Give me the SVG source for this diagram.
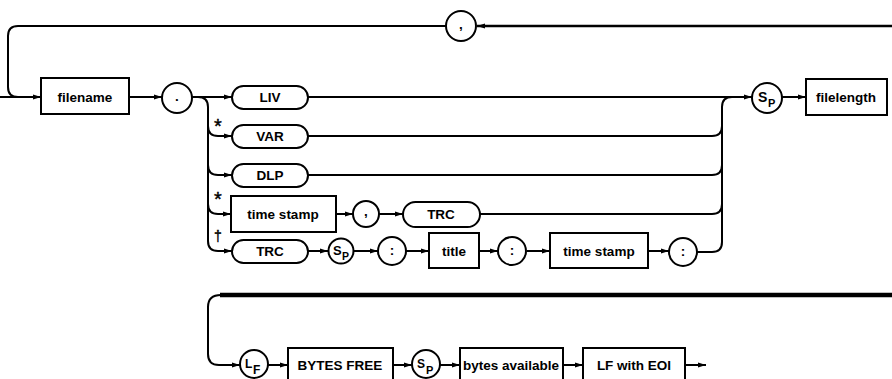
<svg xmlns="http://www.w3.org/2000/svg" width="892" height="379" viewBox="0 0 892 379">
<defs>
<marker id="ah" markerWidth="8" markerHeight="6" refX="8" refY="3" orient="auto" markerUnits="userSpaceOnUse">
<path d="M0,0.5 L8,3 L0,5.5 Z" fill="#000"/>
</marker>
<style>
.n{fill:#fff;stroke:#000;stroke-width:2}
.t{font-family:"Liberation Sans",Arial,sans-serif;font-weight:bold;font-size:13.5px;text-anchor:middle;fill:#000}
.c{fill:none;stroke:#000;stroke-width:2}
.a{marker-end:url(#ah)}
.sym{font-family:"Liberation Sans",Arial,sans-serif;font-weight:bold;fill:#000}
.mk{font-family:"Liberation Sans",Arial,sans-serif;fill:#000;stroke:#000;stroke-width:0.4;text-anchor:middle}
</style>
</defs>
<rect width="892" height="379" fill="#fff"/>
<g id="connectors">
<path class="c" d="M892,26 L477,26" style="stroke-width:2.5" marker-end="url(#ah)"/>
<path class="c" d="M446,26 L18,26 Q8,26 8,36 L8,87 Q8,97 18,97"/>
<path class="c a" d="M0,97 L41,97"/>
<path class="c a" d="M129,97 L162,97"/>
<path class="c a" d="M192,97 L232,97"/>
<path class="c" d="M198,97 Q208,97 208,107 L208,241 Q208,251 218,251"/>
<path class="c a" d="M208,126 Q208,136 218,136 L232,136"/>
<path class="c a" d="M208,165 Q208,175 218,175 L232,175"/>
<path class="c a" d="M208,204 Q208,214 218,214 L231,214"/>
<path class="c a" d="M218,251 L232,251"/>
<path class="c a" d="M308,97 L752,97"/>
<path class="c" d="M308,136 L712,136 Q722,136 722,126"/>
<path class="c" d="M308,175 L712,175 Q722,175 722,165"/>
<path class="c" d="M480,214 L712,214 Q722,214 722,204"/>
<path class="c" d="M697,252 L712,252 Q722,252 722,242 L722,107 Q722,97 732,97"/>
<path class="c a" d="M782,97 L806,97"/>
<path class="c a" d="M336,214 L353,214"/>
<path class="c a" d="M379,214 L403,214"/>
<path class="c a" d="M308,251 L328,251"/>
<path class="c a" d="M353,251 L378,251"/>
<path class="c a" d="M406,251 L429,251"/>
<path class="c a" d="M479,251 L498,251"/>
<path class="c a" d="M527,251 L550,251"/>
<path class="c a" d="M648,251 L669,251"/>
<path class="c" d="M892,295 L220,295" style="stroke-width:4.5"/>
<path class="c a" d="M221,295 Q208,295 208,307 L208,354 Q208,365 219,365 L240,365"/>
<path class="c a" d="M268,365 L288,365"/>
<path class="c a" d="M393,365 L412,365"/>
<path class="c a" d="M440,365 L460,365"/>
<path class="c a" d="M563,365 L583,365"/>
<path class="c a" d="M685,365 L706,365"/>
</g>
<g id="n_comma_top"><circle class="n" cx="461" cy="26" r="15"/><text class="t" x="461" y="29">,</text></g>
<g id="n_filename"><rect class="n" x="41" y="78" width="88" height="36"/><text class="t" x="85" y="102">filename</text></g>
<g id="n_period"><circle class="n" cx="177" cy="98" r="15"/><text class="t" x="177" y="101">.</text></g>
<g id="n_liv"><rect class="n" x="232" y="86" width="76" height="23" rx="11.5"/><text class="t" x="270" y="102">LIV</text></g>
<text class="mk" x="218" y="133" font-size="20">*</text>
<g id="n_var"><rect class="n" x="232" y="125" width="76" height="23" rx="11.5"/><text class="t" x="270" y="141">VAR</text></g>
<g id="n_dlp"><rect class="n" x="232" y="164" width="76" height="23" rx="11.5"/><text class="t" x="270" y="180">DLP</text></g>
<text class="mk" x="218" y="206" font-size="20">*</text>
<g id="n_ts1"><rect class="n" x="231" y="196" width="105" height="36"/><text class="t" x="283" y="219">time stamp</text></g>
<g id="n_comma_mid"><circle class="n" cx="366" cy="214" r="13"/><text class="t" x="366" y="216">,</text></g>
<g id="n_trc2"><rect class="n" x="403" y="202" width="77" height="25" rx="12.5"/><text class="t" x="441" y="219">TRC</text></g>
<text class="mk" x="218" y="241" font-size="14">†</text>
<g id="n_trc1"><rect class="n" x="232" y="240" width="76" height="23" rx="11.5"/><text class="t" x="270" y="256">TRC</text></g>
<g id="n_sp1"><circle class="n" cx="341" cy="251" r="12.5"/><text class="sym" x="333" y="255" font-size="13">S</text><text class="sym" x="342" y="260" font-size="10.5">P</text></g>
<g id="n_colon1"><circle class="n" cx="392" cy="251" r="14"/><text class="t" x="392" y="255">:</text></g>
<g id="n_title"><rect class="n" x="429" y="233" width="50" height="35"/><text class="t" x="454" y="256">title</text></g>
<g id="n_colon2"><circle class="n" cx="512" cy="251" r="14"/><text class="t" x="512" y="255">:</text></g>
<g id="n_ts2"><rect class="n" x="550" y="233" width="98" height="35"/><text class="t" x="599" y="256">time stamp</text></g>
<g id="n_colon3"><circle class="n" cx="683" cy="252" r="14"/><text class="t" x="683" y="256">:</text></g>
<g id="n_sp_top"><circle class="n" cx="767" cy="98" r="15"/><text class="sym" x="758" y="102" font-size="14">S</text><text class="sym" x="768" y="107" font-size="11">P</text></g>
<g id="n_filelength"><rect class="n" x="806" y="79" width="81" height="36"/><text class="t" x="846" y="102">filelength</text></g>
<g id="n_lf"><circle class="n" cx="254" cy="364" r="14"/><text class="sym" x="245" y="368" font-size="12" font-weight="normal">L</text><text class="sym" x="253" y="374" font-size="12">F</text></g>
<g id="n_bytesfree"><rect class="n" x="288" y="348" width="105" height="33"/><text class="t" x="340" y="370" font-size="13">BYTES FREE</text></g>
<g id="n_sp2"><circle class="n" cx="426" cy="364" r="14"/><text class="sym" x="417" y="368" font-size="12" font-weight="normal">S</text><text class="sym" x="426" y="374" font-size="11">P</text></g>
<g id="n_bytesavail"><rect class="n" x="460" y="348" width="103" height="33"/><text class="t" x="511" y="370">bytes available</text></g>
<g id="n_lfeoi"><rect class="n" x="583" y="348" width="102" height="33"/><text class="t" x="634" y="370" font-size="13">LF with EOI</text></g>
</svg>
